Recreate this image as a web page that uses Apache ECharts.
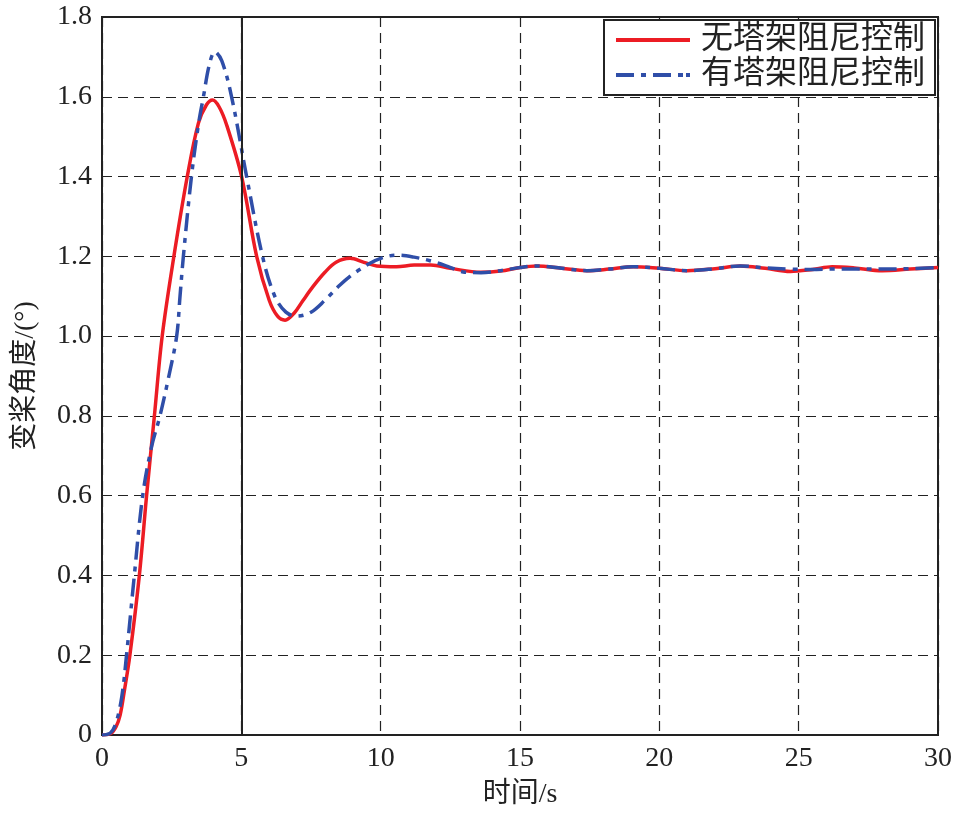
<!DOCTYPE html>
<html>
<head>
<meta charset="utf-8">
<script src="https://cdn.jsdelivr.net/npm/echarts@6/dist/echarts.min.js"></script>
<style>html,body{margin:0;padding:0;background:#fff}#c{width:958px;height:814px}</style>
</head>
<body>
<div id="c"></div>
<script>
var seriesNames = ['无塔架阻尼控制', '有塔架阻尼控制'];
var xAxisName = '时间/s';
var yAxisName = '变桨角度/(°)';

var redT = [0,0.3,0.5,0.65,0.8,1.0,1.34,1.6,1.88,2.16,2.58,3.06,3.46,3.75,3.97,4.2,4.47,5.01,5.55,6.0,6.3,6.57,6.9,7.2,7.57,8.0,8.4,8.9,9.4,9.86,10.57,11.2,11.8,12.5,13.6,14.3,15.0,15.6,16.5,17.4,18.2,19.06,20.0,21.0,22.0,22.9,23.8,24.7,25.5,26.2,27.0,28.0,29.0,30.0];
var redV = [0,0.003,0.02,0.05,0.11,0.2,0.4,0.6,0.8,1.0,1.2,1.4,1.534,1.58,1.592,1.575,1.53,1.4,1.2,1.09,1.05,1.04,1.058,1.088,1.124,1.16,1.185,1.195,1.185,1.176,1.174,1.178,1.178,1.17,1.16,1.163,1.172,1.176,1.17,1.164,1.168,1.174,1.17,1.164,1.169,1.176,1.17,1.162,1.167,1.174,1.171,1.164,1.168,1.172];

var blueT = [0,0.3,0.5,0.71,0.88,1.16,1.46,1.78,2.08,2.4,2.68,2.8,2.92,3.21,3.46,3.64,3.85,4.05,4.3,4.65,5.19,5.76,6.2,6.6,7.0,7.5,8.0,8.54,9.0,9.6,10.0,10.57,11.2,11.77,12.4,12.96,13.6,14.3,15.0,15.6,16.5,17.4,18.2,19.06,20.0,21.0,22.0,22.9,23.8,24.7,25.5,26.2,27.0,28.0,29.0,30.0];
var blueV = [0,0.005,0.03,0.096,0.2,0.4,0.6,0.723,0.8,0.9,1.0,1.1,1.2,1.4,1.53,1.6,1.68,1.713,1.69,1.6,1.4,1.2,1.1,1.06,1.05,1.06,1.09,1.128,1.155,1.182,1.195,1.203,1.198,1.189,1.175,1.161,1.159,1.164,1.172,1.176,1.17,1.164,1.168,1.174,1.17,1.164,1.169,1.176,1.171,1.168,1.167,1.168,1.168,1.168,1.169,1.172];

var xTicks = {min: 0, max: 30, interval: 5};
var yTicks = {min: 0, max: 1.8, interval: 0.2};

function pairs(t, v) { return t.map(function (x, i) { return [x, v[i]]; }); }

var chart = echarts.init(document.getElementById('c'), null, {renderer: 'canvas'});
var serif = 'Liberation Serif';
var cjk = 'Liberation Serif, Noto Sans CJK SC';
var gridLine = {show: true, lineStyle: {color: '#222', width: 1.2, type: [10, 6]}};

chart.setOption({
  animation: false,
  backgroundColor: '#fff',
  grid: {left: 102, right: 20, top: 17, bottom: 79, show: true, borderColor: '#222', borderWidth: 2, backgroundColor: 'transparent'},
  legend: {
    data: [
      {name: seriesNames[0], icon: 'path://M0,0H74V4H0Z'},
      {name: seriesNames[1], icon: 'path://M0,0H18V4H0Z M25,0H30V4H25Z M37,0H55V4H37Z M62,0H67V4H62Z M70,0H74V4H70Z'}
    ],
    orient: 'vertical',
    right: 23, top: 20,
    backgroundColor: '#fff',
    borderColor: '#222', borderWidth: 2, borderRadius: 0,
    padding: [4, 10, 4, 12],
    itemGap: 3,
    itemWidth: 74, itemHeight: 4,
    textStyle: {fontFamily: cjk, fontSize: 32, color: '#222', padding: [0, 0, 0, 6]}
  },
  xAxis: {
    type: 'value', min: xTicks.min, max: xTicks.max, interval: xTicks.interval,
    name: xAxisName, nameLocation: 'middle', nameGap: 46,
    nameTextStyle: {fontFamily: cjk, fontSize: 28, color: '#222'},
    axisLine: {show: true, lineStyle: {color: '#222', width: 2}},
    axisTick: {show: false},
    axisLabel: {fontFamily: serif, fontSize: 28, color: '#222', margin: 10},
    splitLine: gridLine
  },
  yAxis: {
    type: 'value', min: yTicks.min, max: yTicks.max, interval: yTicks.interval,
    name: yAxisName, nameLocation: 'middle', nameGap: 62,
    nameTextStyle: {fontFamily: cjk, fontSize: 28, color: '#222'},
    axisLine: {show: true, lineStyle: {color: '#222', width: 2}},
    axisTick: {show: false},
    axisLabel: {fontFamily: serif, fontSize: 28, color: '#222', margin: 10,
      formatter: function (v) { return v === 0 ? '0' : v.toFixed(1); }},
    splitLine: gridLine
  },
  series: [
    {
      type: 'line', name: 'ref', z: 1, data: [], silent: true,
      markLine: {silent: true, symbol: 'none', label: {show: false},
        lineStyle: {color: '#222', type: 'solid', width: 2}, data: [{xAxis: 5}]}
    },
    {
      type: 'line', name: seriesNames[0], data: pairs(redT, redV), smooth: 0.35,
      showSymbol: false, symbol: 'none', z: 3,
      itemStyle: {color: '#ec1c24'},
      lineStyle: {color: '#ec1c24', width: 3.5, type: 'solid'}
    },
    {
      type: 'line', name: seriesNames[1], data: pairs(blueT, blueV), smooth: 0.35,
      showSymbol: false, symbol: 'none', z: 4,
      itemStyle: {color: '#2f4ea8'},
      lineStyle: {color: '#2f4ea8', width: 3.5, type: [18, 7, 5, 7]}
    }
  ]
});
</script>
</body>
</html>
